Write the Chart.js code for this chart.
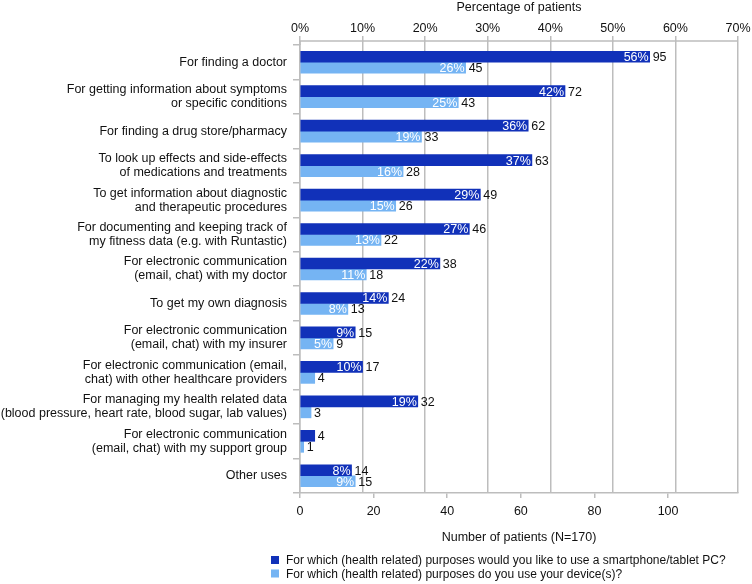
<!DOCTYPE html>
<html>
<head>
<meta charset="utf-8">
<script src="https://cdn.jsdelivr.net/npm/chart.js@4.4.1/dist/chart.umd.min.js"></script>
<style>
  html, body { margin: 0; padding: 0; background: #fff; }
  #chart { display: block; }
</style>
</head>
<body>
<canvas id="chart" width="752" height="584"></canvas>
<script>
// categories (multi-line labels)
const categories = [
  ["For finding a doctor"],
  ["For getting information about symptoms", "or specific conditions"],
  ["For finding a drug store/pharmacy"],
  ["To look up effects and side-effects", "of medications and treatments"],
  ["To get information about diagnostic", "and therapeutic procedures"],
  ["For documenting and keeping track of", "my fitness data (e.g. with Runtastic)"],
  ["For electronic communication", "(email, chat) with my doctor"],
  ["To get my own diagnosis"],
  ["For electronic communication", "(email, chat) with my insurer"],
  ["For electronic communication (email,", "chat) with other healthcare providers"],
  ["For managing my health related data", "(blood pressure, heart rate, blood sugar, lab values)"],
  ["For electronic communication", "(email, chat) with my support group"],
  ["Other uses"]
];

// number of patients
const wouldLike = [95, 72, 62, 63, 49, 46, 38, 24, 15, 17, 32, 4, 14];
const doUse = [45, 43, 33, 28, 26, 22, 18, 13, 9, 4, 3, 1, 15];

// percentage labels shown inside the bars (null = not shown)
const wouldLikePct = ["56%", "42%", "36%", "37%", "29%", "27%", "22%", "14%", "9%", "10%", "19%", null, "8%"];
const doUsePct = ["26%", "25%", "19%", "16%", "15%", "13%", "11%", "8%", "5%", null, null, null, "9%"];

const seriesNames = [
  "For which (health related) purposes would you like to use a smartphone/tablet PC?",
  "For which (health related) purposes do you use your device(s)?"
];

const pctTicks = [0, 10, 20, 30, 40, 50, 60, 70];
const countTicks = [0, 20, 40, 60, 80, 100];

const darkBlue = "#1131b9";
const lightBlue = "#75b4f3";
const gridGray = "#bdbdbd";
const FONT = "'Liberation Sans', Arial, Helvetica, sans-serif";
const FS = 12.5;

// value + percentage labels on the bars
const barLabels = {
  id: "barLabels",
  afterDatasetsDraw(chart) {
    const ctx = chart.ctx;
    const pctSets = [wouldLikePct, doUsePct];
    ctx.save();
    ctx.font = FS + "px " + FONT;
    ctx.textBaseline = "middle";
    chart.data.datasets.forEach((ds, di) => {
      const meta = chart.getDatasetMeta(di);
      meta.data.forEach((bar, i) => {
        const pct = pctSets[di][i];
        if (pct) {
          ctx.fillStyle = "#fff";
          ctx.textAlign = "right";
          ctx.fillText(pct, bar.x - 1, bar.y + 1);
        }
        ctx.fillStyle = "#111";
        ctx.textAlign = "left";
        ctx.fillText(String(ds.data[i]), bar.x + 3, bar.y + 1);
      });
    });
    ctx.restore();
  }
};

// top axis line sits a few px above the first category
const topAxisLine = {
  id: "topAxisLine",
  beforeDatasetsDraw(chart) {
    const { ctx, chartArea } = chart;
    ctx.save();
    ctx.strokeStyle = gridGray;
    ctx.lineWidth = 1.5;
    ctx.beginPath();
    ctx.moveTo(chartArea.left, chartArea.top - 4);
    ctx.lineTo(chartArea.right, chartArea.top - 4);
    ctx.moveTo(chartArea.left, chartArea.top - 4);
    ctx.lineTo(chartArea.left, chartArea.top);
    ctx.stroke();
    ctx.restore();
  }
};

// legend drawn under the axis title
const bottomLegend = {
  id: "bottomLegend",
  afterDraw(chart) {
    const ctx = chart.ctx;
    const colors = [darkBlue, lightBlue];
    ctx.save();
    ctx.font = "12px " + FONT;
    ctx.textBaseline = "middle";
    ctx.textAlign = "left";
    seriesNames.forEach((name, i) => {
      const y = 560 + i * 13.5;
      ctx.fillStyle = colors[i];
      ctx.fillRect(271, y - 4, 8, 8);
      ctx.fillStyle = "#111";
      ctx.fillText(name, 286, y + 1);
    });
    ctx.restore();
  }
};

new Chart(document.getElementById("chart"), {
  type: "bar",
  data: {
    labels: categories,
    datasets: [
      {
        label: seriesNames[0],
        data: wouldLike,
        backgroundColor: darkBlue,
        barThickness: 11,
        xAxisID: "x",
        yAxisID: "y"
      },
      {
        label: seriesNames[1],
        data: doUse,
        backgroundColor: lightBlue,
        barThickness: 11,
        xAxisID: "x",
        yAxisID: "y"
      }
    ]
  },
  options: {
    indexAxis: "y",
    responsive: false,
    animation: false,
    layout: { padding: { top: 0, right: 14, bottom: 39, left: 0 } },
    scales: {
      x: {
        type: "linear",
        position: "bottom",
        min: 0,
        max: 119,
        afterBuildTicks: (scale) => {
          scale.ticks = countTicks.map((v) => ({ value: v }));
        },
        afterFit: (scale) => { scale.height = 52; },
        grid: { drawOnChartArea: false, tickLength: 5, color: gridGray, lineWidth: 1.5 },
        border: { color: gridGray, width: 1.5 },
        ticks: { color: "#111", font: { family: FONT, size: FS }, padding: 6 },
        title: {
          display: true,
          text: "Number of patients (N=170)",
          color: "#111",
          font: { family: FONT, size: FS },
          padding: { top: 4, bottom: 0 }
        }
      },
      x2: {
        type: "linear",
        position: "top",
        min: 0,
        max: 70,
        afterBuildTicks: (scale) => {
          scale.ticks = pctTicks.map((v) => ({ value: v }));
        },
        afterFit: (scale) => { scale.height = 45; },
        grid: { drawOnChartArea: true, tickLength: 9, color: gridGray, lineWidth: 1.5 },
        border: { display: false },
        ticks: {
          color: "#111",
          font: { family: FONT, size: FS },
          padding: 0,
          callback: (v) => v + "%"
        },
        title: {
          display: true,
          text: "Percentage of patients",
          color: "#111",
          font: { family: FONT, size: FS },
          padding: { top: 0, bottom: 0 }
        }
      },
      y: {
        type: "category",
        position: "left",
        afterFit: (scale) => { scale.width = 300; },
        grid: { drawOnChartArea: false, offset: true, tickLength: 7, color: gridGray, lineWidth: 1.5 },
        border: { color: gridGray, width: 1.5 },
        ticks: { color: "#111", font: { family: FONT, size: FS, lineHeight: 1.12 }, padding: 6, autoSkip: false }
      }
    },
    plugins: {
      legend: { display: false },
      tooltip: { enabled: false }
    }
  },
  plugins: [barLabels, topAxisLine, bottomLegend]
});
</script>
</body>
</html>
